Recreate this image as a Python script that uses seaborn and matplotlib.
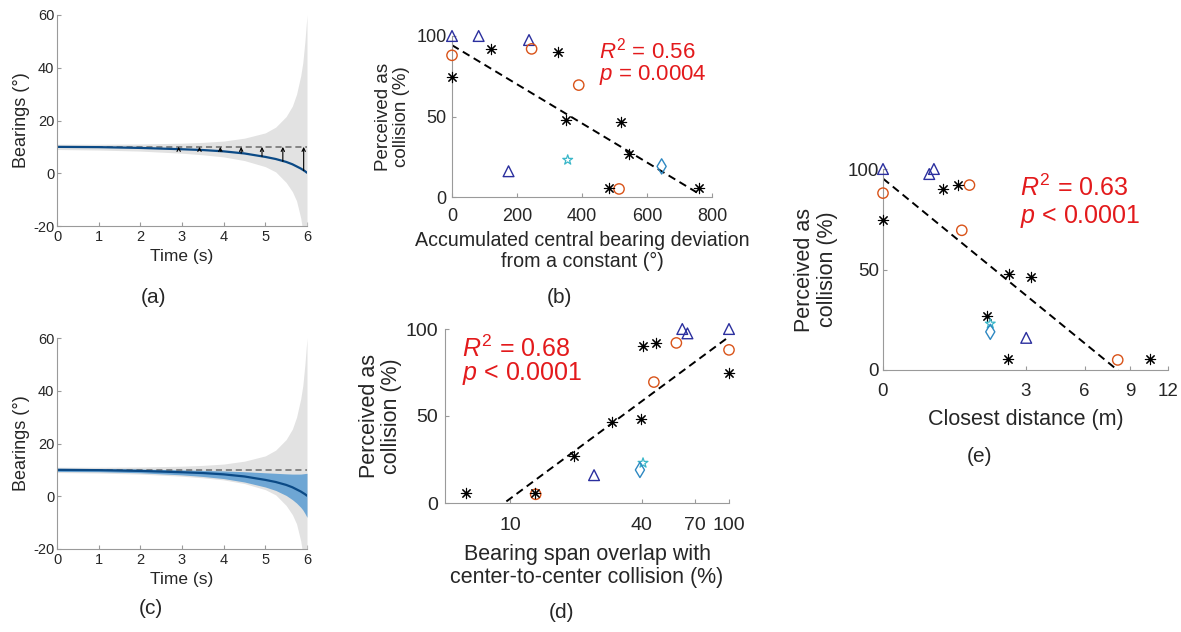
import numpy as np
import pandas as pd
import matplotlib
matplotlib.use('Agg')
import matplotlib.pyplot as plt
import seaborn as sns

# ---------------- (a) / (c): bearing over time ----------------
t = [0, 1, 2, 3, 3.5, 4, 4.5, 5, 5.25, 5.5, 5.65, 5.75, 5.85, 5.9, 5.95, 6.0]
center = [10.0, 9.9, 9.6, 9.1, 8.8, 8.3, 7.5, 6.2, 5.4, 4.3, 3.4, 2.6, 1.8, 1.3, 0.8, 0.2]
span_hi = [11.0, 11.0, 11.1, 11.4, 11.7, 12.2, 13.3, 15.3, 17.5, 21.5, 25.5, 30, 37, 42, 50, 60]
span_lo = [9.0, 8.8, 8.4, 7.6, 7.0, 6.2, 4.8, 2.5, 0.5, -3.5, -7.0, -10.5, -17, -22, -30, -40]
band_hi = [10.6, 10.5, 10.3, 10.0, 9.8, 9.6, 9.3, 8.9, 8.7, 8.5, 8.4, 8.4, 8.4, 8.5, 8.6, 8.7]
band_lo = [9.4, 9.3, 8.9, 8.1, 7.5, 6.7, 5.4, 3.5, 2.2, 0.3, -1.3, -2.6, -4.2, -5.2, -6.5, -8.0]
constant_bearing = 10
arrow_t = [2.92, 3.42, 3.92, 4.42, 4.92, 5.42, 5.92]
arrow_from = [9.1, 8.8, 8.3, 7.6, 6.4, 4.5, 1.0]

# ---------------- (b) (d) (e): perceived collision vs three measures ----------------
# same scenarios in every panel, so y is shared; x_b / x_d / x_e per panel
tri_y = [100, 100, 97.5, 16]
tri_b = [0, 82, 237, 174]
tri_d = [100, 61.2, 64.6, 24.2]
tri_e = [0, 0.383, 0.316, 3.03]

circ_y = [88, 92, 69.5, 5]
circ_b = [0, 245, 390, 514]
circ_d = [100, 57.5, 45.4, 13.1]
circ_e = [0, 1.105, 0.917, 8.14]

ast_y = [74.5, 92, 90, 48, 46.5, 27, 5.5, 5.5]
ast_b = [0, 120, 327, 352, 521, 546, 483, 761]
ast_d = [100, 46.3, 40.5, 39.8, 29.1, 19.6, 13.0, 6.28]
ast_e = [0, 0.841, 0.538, 2.335, 3.215, 1.596, 2.31, 10.57]

star_y = [23]
star_b = [356]
star_d = [40.5]
star_e = [1.70]

dia_y = [19]
dia_b = [645]
dia_d = [39.2]
dia_e = [1.70]

stats_b = ['$R^2$ = 0.56', '$p$ = 0.0004']
stats_d = ['$R^2$ = 0.68', '$p$ < 0.0001']
stats_e = ['$R^2$ = 0.63', '$p$ < 0.0001']

rows = []
for name, ys, xb, xd, xe in [('tri', tri_y, tri_b, tri_d, tri_e),
                             ('circ', circ_y, circ_b, circ_d, circ_e),
                             ('ast', ast_y, ast_b, ast_d, ast_e),
                             ('star', star_y, star_b, star_d, star_e),
                             ('dia', dia_y, dia_b, dia_d, dia_e)]:
    for i in range(len(ys)):
        rows.append({'group': name, 'y': ys[i], 'b': xb[i], 'd': xd[i], 'e': xe[i]})
df = pd.DataFrame(rows)

styles = {
    'tri': dict(marker='^', facecolor='none', edgecolor='#2b2f9e', s=60, linewidth=1.0),
    'circ': dict(marker='o', facecolor='none', edgecolor='#d95319', s=55, linewidth=1.0),
    'ast': dict(marker=(8, 2, 0), facecolor='black', edgecolor='black', s=55, linewidth=0.8),
    'star': dict(marker='*', facecolor='none', edgecolor='#3ab7c9', s=55, linewidth=0.9),
    'dia': dict(marker='d', facecolor='none', edgecolor='#2e88c2', s=60, linewidth=1.0),
}

sns.set_style('ticks', {'xtick.direction': 'in', 'ytick.direction': 'in',
                        'axes.edgecolor': '#9a9a9a'})
plt.rcParams['font.family'] = ['Liberation Sans', 'DejaVu Sans']
plt.rcParams['mathtext.fontset'] = 'custom'
plt.rcParams['mathtext.rm'] = 'Liberation Sans'
plt.rcParams['mathtext.it'] = 'Liberation Sans:italic'
plt.rcParams['axes.unicode_minus'] = False

W, H = 1181, 632
fig = plt.figure(figsize=(W / 100, H / 100), dpi=100)
TXT = '#262626'


def px_axes(left, top, right, bottom):
    return fig.add_axes([left / W, 1 - bottom / H, (right - left) / W, (bottom - top) / H])


def style_axes(ax, tick_size, xpad, ypad):
    sns.despine(ax=ax)
    ax.tick_params(color='#9a9a9a', labelcolor=TXT, length=3, width=0.8, labelsize=tick_size)
    ax.tick_params(axis='x', pad=xpad)
    ax.tick_params(axis='y', pad=ypad)
    for sp in ax.spines.values():
        sp.set_linewidth(0.8)


def bearing_panel(ax, with_band):
    ax.fill_between(t, span_lo, span_hi, color='#e2e2e2', lw=0)
    if with_band:
        ax.fill_between(t, band_lo, band_hi, color='#6ea6d4', lw=0)
    sns.lineplot(x=t, y=[constant_bearing] * len(t), ax=ax, color='#6a6a6a',
                 lw=1.1, linestyle=(0, (4, 2.5)))
    sns.lineplot(x=t, y=center, ax=ax, color='#0b4a86', lw=1.6)
    if not with_band:
        for x0, y0 in zip(arrow_t, arrow_from):
            ax.annotate('', xy=(x0, constant_bearing), xytext=(x0, y0),
                        arrowprops=dict(arrowstyle='->', lw=0.8, color='black',
                                        shrinkA=0, shrinkB=0, mutation_scale=6))
    ax.set_xlim(0, 6)
    ax.set_ylim(-20, 60)
    ax.set_xticks(range(0, 7))
    ax.set_yticks(range(-20, 61, 20))
    style_axes(ax, 10.5, 3, 2)
    ax.set_xlabel('Time (s)', fontsize=12.5, color=TXT)
    ax.set_ylabel('Bearings (°)', fontsize=13, color=TXT)
    ax.xaxis.set_label_coords(0.5, -0.108)
    ax.yaxis.set_label_coords(-0.108, 0.5)


def scatter_panel(ax, col, tick_size, xpad, ypad):
    for name, st in styles.items():
        sub = df[df['group'] == name]
        sns.scatterplot(x=sub[col], y=sub['y'], ax=ax, color=st['edgecolor'],
                        clip_on=False, zorder=3, legend=False, **st)
    ax.set_ylim(0, 100)
    ax.set_yticks([0, 50, 100])
    style_axes(ax, tick_size, xpad, ypad)


DASH = (0, (4, 2.5))

# ---- (a)
ax_a = px_axes(57, 15, 307, 226)
bearing_panel(ax_a, with_band=False)

# ---- (c)
ax_c = px_axes(57, 338, 307, 549)
bearing_panel(ax_c, with_band=True)

# ---- (b)
ax_b = px_axes(452, 36, 712, 197)
xb = np.array(df['b'], float)
k, c0 = np.polyfit(xb, df['y'], 1)
xf = np.linspace(xb.min(), xb.max(), 50)
sns.lineplot(x=xf, y=k * xf + c0, ax=ax_b, color='black', lw=1.4, linestyle=DASH)
scatter_panel(ax_b, 'b', 13, 8, 4)
ax_b.set_xlim(0, 800)
ax_b.set_xticks(range(0, 801, 200))
ax_b.set_xlabel('Accumulated central bearing deviation\nfrom a constant (°)',
                fontsize=14.1, color=TXT, linespacing=1.15)
ax_b.set_ylabel('Perceived as\ncollision (%)', fontsize=13.5, color=TXT, linespacing=1.1)
ax_b.xaxis.set_label_coords(0.5, -0.211)
ax_b.yaxis.set_label_coords(-0.16, 0.5)
ax_b.text(0.565, 0.99, '\n'.join(stats_b), transform=ax_b.transAxes, ha='left', va='top',
          color='#e31a1c', fontsize=16, linespacing=0.95)

# ---- (d)
ax_d = px_axes(445, 329, 729, 503)
xd = np.log10(np.array(df['d'], float))
k, c0 = np.polyfit(xd, df['y'], 1)
xf = np.linspace(xd.min(), xd.max(), 50)
sns.lineplot(x=10 ** xf, y=k * xf + c0, ax=ax_d, color='black', lw=1.4, linestyle=DASH)
scatter_panel(ax_d, 'd', 14, 10, 5)
ax_d.set_xscale('log')
ax_d.set_xlim(5.05, 100)
ax_d.set_xticks([10, 40, 70, 100])
ax_d.set_xticklabels(['10', '40', '70', '100'])
ax_d.minorticks_off()
ax_d.set_xlabel('Bearing span overlap with\ncenter-to-center collision (%)',
                fontsize=15.5, color=TXT, linespacing=1.12)
ax_d.set_ylabel('Perceived as\ncollision (%)', fontsize=15.5, color=TXT, linespacing=1.1)
ax_d.xaxis.set_label_coords(0.5, -0.234)
ax_d.yaxis.set_label_coords(-0.151, 0.5)
ax_d.text(0.06, 0.96, '\n'.join(stats_d), transform=ax_d.transAxes, ha='left', va='top',
          color='#e31a1c', fontsize=18, linespacing=0.9)

# ---- (e)
ax_e = px_axes(883, 169, 1168, 370)
xe = np.sqrt(np.array(df['e'], float))
k, c0 = np.polyfit(xe, df['y'], 1)
xf = np.linspace(xe.min(), xe.max(), 50)
sns.lineplot(x=xf ** 2, y=k * xf + c0, ax=ax_e, color='black', lw=1.4, linestyle=DASH)
scatter_panel(ax_e, 'e', 13.5, 9, 3)
ax_e.set_xscale('function', functions=(lambda v: np.sqrt(np.clip(v, 0, None)), np.square))
ax_e.set_xlim(0, 12)
ax_e.set_xticks([0, 3, 6, 9, 12])
ax_e.set_xticklabels(['0', '3', '6', '9', '12'])
ax_e.minorticks_off()
ax_e.set_xlabel('Closest distance (m)', fontsize=15.5, color=TXT)
ax_e.set_ylabel('Perceived as\ncollision (%)', fontsize=15.5, color=TXT, linespacing=1.1)
ax_e.xaxis.set_label_coords(0.5, -0.195)
ax_e.yaxis.set_label_coords(-0.158, 0.5)
ax_e.text(0.48, 0.97, '\n'.join(stats_e), transform=ax_e.transAxes, ha='left', va='top',
          color='#e31a1c', fontsize=18, linespacing=1.1)

# panel letters
for lab, x, y in [('(a)', 153, 297), ('(b)', 559, 297), ('(c)', 151, 608),
                  ('(d)', 562, 613), ('(e)', 979, 457)]:
    fig.text(x / W, 1 - y / H, lab, ha='center', va='center', fontsize=15, color=TXT)

fig.savefig('out.png', dpi=100)
